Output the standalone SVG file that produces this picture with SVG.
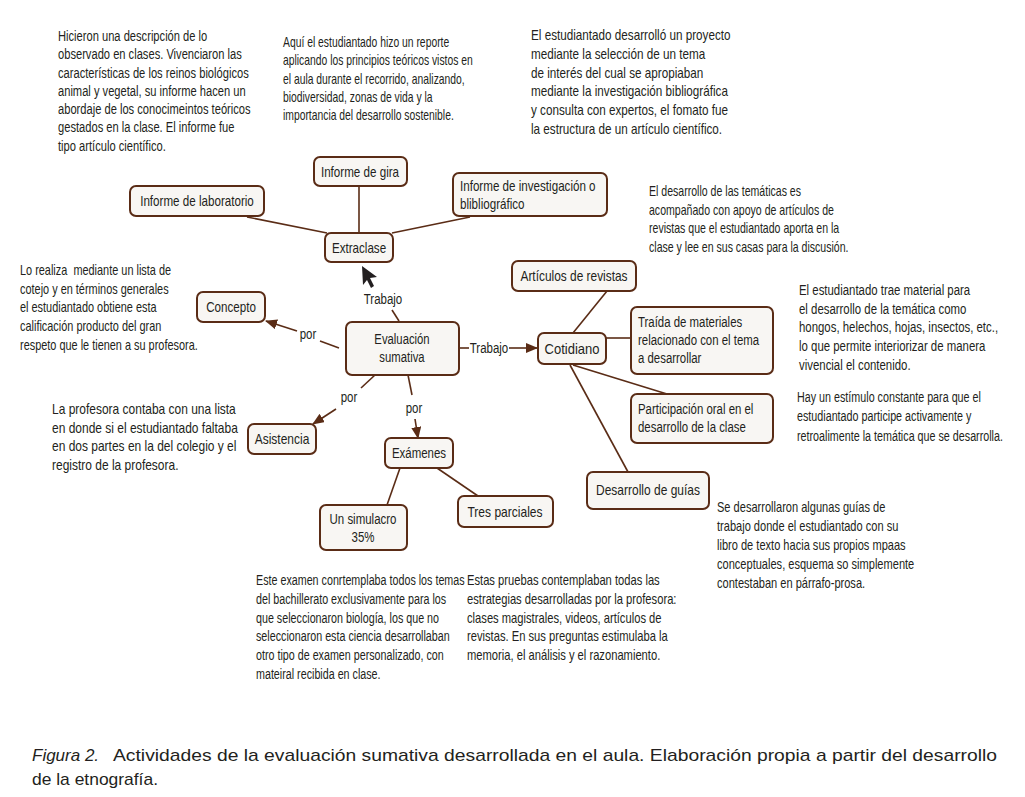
<svg xmlns="http://www.w3.org/2000/svg" width="1025" height="797" viewBox="0 0 1025 797">
<style>
.bg{fill:#ffffff}
.box{fill:#f8f6f3;stroke:#5a2c16;stroke-width:2}
.cn{stroke:#5a2c16;stroke-width:1.6;fill:none}
text{fill:#231f20;font-family:"Liberation Sans",Arial,sans-serif;font-size:14px}
.m{text-anchor:middle}
.cap{font-size:17px}
</style>
<defs>
<marker id="arr" markerWidth="12" markerHeight="10" refX="11" refY="5" orient="auto" markerUnits="userSpaceOnUse">
<path d="M0,0 L12,5 L0,10 Z" fill="#5a2c16"/>
</marker>
</defs>
<rect class="bg" x="0" y="0" width="1025" height="797"/>

<g id="connectors">
<line class="cn" x1="247" y1="217" x2="327" y2="233"/>
<line class="cn" x1="359" y1="186" x2="359" y2="233"/>
<line class="cn" x1="392" y1="233" x2="470" y2="217"/>
<line class="cn" x1="392" y1="310" x2="399" y2="321"/>
<path d="M362,266 L363,285 L367,280 L371,288 L374,286 L370,278 L377,277 Z" fill="#231f20"/>
<line class="cn" x1="339" y1="348" x2="320" y2="341"/>
<line class="cn" x1="297" y1="331" x2="266" y2="321" marker-end="url(#arr)"/>
<line class="cn" x1="459" y1="348" x2="469" y2="348"/>
<line class="cn" x1="509" y1="348" x2="537" y2="348" marker-end="url(#arr)"/>
<line class="cn" x1="375" y1="375" x2="361" y2="388"/>
<line class="cn" x1="336" y1="409" x2="313" y2="424" marker-end="url(#arr)"/>
<line class="cn" x1="408" y1="375" x2="412" y2="395"/>
<line class="cn" x1="415" y1="419" x2="418" y2="438" marker-end="url(#arr)"/>
<line class="cn" x1="400" y1="468" x2="387" y2="505"/>
<line class="cn" x1="437" y1="468" x2="478" y2="496"/>
<line class="cn" x1="607" y1="291" x2="573" y2="333"/>
<line class="cn" x1="606" y1="338" x2="631" y2="338"/>
<line class="cn" x1="573" y1="365" x2="667" y2="394"/>
<line class="cn" x1="570" y1="365" x2="628" y2="472"/>
<text class="m" transform="matrix(0.82,0,0,1,383,0)" x="0" y="304">Trabajo</text>
<text class="m" transform="matrix(0.82,0,0,1,308,0)" x="0" y="339">por</text>
<text class="m" transform="matrix(0.82,0,0,1,489,0)" x="0" y="353">Trabajo</text>
<text class="m" transform="matrix(0.82,0,0,1,349,0)" x="0" y="402">por</text>
<text class="m" transform="matrix(0.82,0,0,1,414,0)" x="0" y="413">por</text>
</g>

<g id="n-lab"><rect class="box" x="130" y="186" width="134" height="30" rx="6"/><text class="m" transform="matrix(0.83,0,0,1,197,0)" x="0" y="206">Informe de laboratorio</text></g>
<g id="n-gira"><rect class="box" x="314" y="157" width="93" height="29" rx="6"/><text class="m" transform="matrix(0.83,0,0,1,360,0)" x="0" y="177">Informe de gira</text></g>
<g id="n-inv"><rect class="box" x="453" y="173" width="154" height="43" rx="6"/><text transform="matrix(0.83,0,0,1,460,0)" x="0" y="191">Informe de investigación o<tspan x="0" y="209">blibliográfico</tspan></text></g>
<g id="n-extra"><rect class="box" x="325" y="233" width="68" height="29" rx="6"/><text class="m" transform="matrix(0.83,0,0,1,359,0)" x="0" y="253">Extraclase</text></g>
<g id="n-eval"><rect class="box" x="346" y="322" width="113" height="53" rx="6"/><text class="m" transform="matrix(0.78,0,0,1,402,0)" x="0" y="344" style="font-size:14.5px">Evaluación<tspan x="0" y="362">sumativa</tspan></text></g>
<g id="n-concepto"><rect class="box" x="197" y="292" width="68" height="30" rx="6"/><text class="m" transform="matrix(0.83,0,0,1,231,0)" x="0" y="312">Concepto</text></g>
<g id="n-cotidiano"><rect class="box" x="538" y="333" width="68" height="31" rx="6"/><text class="m" transform="matrix(0.93,0,0,1,572,0)" x="0" y="354">Cotidiano</text></g>
<g id="n-articulos"><rect class="box" x="512" y="261" width="124" height="30" rx="6"/><text class="m" transform="matrix(0.85,0,0,1,574,0)" x="0" y="281">Artículos de revistas</text></g>
<g id="n-traida"><rect class="box" x="631" y="307" width="142" height="67" rx="6"/><text transform="matrix(0.815,0,0,1,638,0)" x="0" y="327">Traída de materiales<tspan x="0" y="345">relacionado con el tema</tspan><tspan x="0" y="363">a desarrollar</tspan></text></g>
<g id="n-partic"><rect class="box" x="631" y="394" width="142" height="49" rx="6"/><text transform="matrix(0.815,0,0,1,638,0)" x="0" y="414">Participación oral en el<tspan x="0" y="432">desarrollo de la clase</tspan></text></g>
<g id="n-guias"><rect class="box" x="587" y="472" width="122" height="37" rx="6"/><text class="m" transform="matrix(0.857,0,0,1,648,0)" x="0" y="495">Desarrollo de guías</text></g>
<g id="n-asist"><rect class="box" x="248" y="424" width="68" height="30" rx="6"/><text class="m" transform="matrix(0.857,0,0,1,282,0)" x="0" y="444">Asistencia</text></g>
<g id="n-exam"><rect class="box" x="385" y="438" width="68" height="30" rx="6"/><text class="m" transform="matrix(0.82,0,0,1,419,0)" x="0" y="458">Exámenes</text></g>
<g id="n-simul"><rect class="box" x="320" y="505" width="87" height="45" rx="6"/><text class="m" transform="matrix(0.82,0,0,1,363,0)" x="0" y="524">Un simulacro<tspan x="0" y="542">35%</tspan></text></g>
<g id="n-tres"><rect class="box" x="458" y="496" width="95" height="31" rx="6"/><text class="m" transform="matrix(0.86,0,0,1,505,0)" x="0" y="517">Tres parciales</text></g>

<g id="notes">
<text transform="matrix(0.797,0,0,1,58,0)" x="0" y="41">Hicieron una descripción de lo<tspan x="0" dy="18.3">observado en clases. Vivenciaron las</tspan><tspan x="0" dy="18.3">características de los reinos biológicos</tspan><tspan x="0" dy="18.3">animal y vegetal, su informe hacen un</tspan><tspan x="0" dy="18.3">abordaje de los conocimeintos teóricos</tspan><tspan x="0" dy="18.3">gestados en la clase. El informe fue</tspan><tspan x="0" dy="18.3">tipo artículo científico.</tspan></text>
<text transform="matrix(0.74,0,0,1,283,0)" x="0" y="47">Aquí el estudiantado hizo un reporte<tspan x="0" dy="18.3">aplicando los principios teóricos vistos en</tspan><tspan x="0" dy="18.3">el aula durante el recorrido, analizando,</tspan><tspan x="0" dy="18.3">biodiversidad, zonas de vida y la</tspan><tspan x="0" dy="18.3">importancia del desarrollo sostenible.</tspan></text>
<text transform="matrix(0.836,0,0,1,531,0)" x="0" y="40">El estudiantado desarrolló un proyecto<tspan x="0" dy="18.8">mediante la selección de un tema</tspan><tspan x="0" dy="18.8">de interés del cual se apropiaban</tspan><tspan x="0" dy="18.8">mediante la investigación bibliográfica</tspan><tspan x="0" dy="18.8">y consulta con expertos, el fomato fue</tspan><tspan x="0" dy="18.8">la estructura de un artículo científico.</tspan></text>
<text transform="matrix(0.755,0,0,1,649,0)" x="0" y="196">El desarrollo de las temáticas es<tspan x="0" dy="18.6">acompañado con apoyo de artículos de</tspan><tspan x="0" dy="18.6">revistas que el estudiantado aporta en la</tspan><tspan x="0" dy="18.6">clase y lee en sus casas para la discusión.</tspan></text>
<text transform="matrix(0.815,0,0,1,799,0)" x="0" y="295">El estudiantado trae material para<tspan x="0" dy="18.7">el desarrollo de la temática como</tspan><tspan x="0" dy="18.7">hongos, helechos, hojas, insectos, etc.,</tspan><tspan x="0" dy="18.7">lo que permite interiorizar de manera</tspan><tspan x="0" dy="18.7">vivencial el contenido.</tspan></text>
<text transform="matrix(0.768,0,0,1,797,0)" x="0" y="402">Hay un estímulo constante para que el<tspan x="0" dy="19.3">estudiantado participe activamente y</tspan><tspan x="0" dy="19.3">retroalimente la temática que se desarrolla.</tspan></text>
<text transform="matrix(0.79,0,0,1,717,0)" x="0" y="512">Se desarrollaron algunas guías de<tspan x="0" dy="19">trabajo donde el estudiantado con su</tspan><tspan x="0" dy="19">libro de texto hacia sus propios mpaas</tspan><tspan x="0" dy="19">conceptuales, esquema so simplemente</tspan><tspan x="0" dy="19">contestaban en párrafo-prosa.</tspan></text>
<text transform="matrix(0.78,0,0,1,20,0)" x="0" y="275" xml:space="preserve">Lo realiza  mediante un lista de<tspan x="0" dy="18.7">cotejo y en términos generales</tspan><tspan x="0" dy="18.7">el estudiantado obtiene esta</tspan><tspan x="0" dy="18.7">calificación producto del gran</tspan><tspan x="0" dy="18.7">respeto que le tienen a su profesora.</tspan></text>
<text transform="matrix(0.857,0,0,1,52,0)" x="0" y="414">La profesora contaba con una lista<tspan x="0" dy="18.7">en donde si el estudiantado faltaba</tspan><tspan x="0" dy="18.7">en dos partes en la del colegio y el</tspan><tspan x="0" dy="18.7">registro de la profesora.</tspan></text>
<text transform="matrix(0.766,0,0,1,256,0)" x="0" y="585">Este examen conrtemplaba todos los temas<tspan x="0" dy="18.8">del bachillerato exclusivamente para los</tspan><tspan x="0" dy="18.8">que seleccionaron biología, los que no</tspan><tspan x="0" dy="18.8">seleccionaron esta ciencia desarrollaban</tspan><tspan x="0" dy="18.8">otro tipo de examen personalizado, con</tspan><tspan x="0" dy="18.8">mateiral recibida en clase.</tspan></text>
<text transform="matrix(0.8,0,0,1,467,0)" x="0" y="585">Estas pruebas contemplaban todas las<tspan x="0" dy="18.8">estrategias desarrolladas por la profesora:</tspan><tspan x="0" dy="18.8">clases magistrales, videos, artículos de</tspan><tspan x="0" dy="18.8">revistas. En sus preguntas estimulaba la</tspan><tspan x="0" dy="18.8">memoria, el análisis y el razonamiento.</tspan></text>
</g>

<g id="caption">
<text class="cap" x="32" y="761" font-style="italic">Figura 2.</text>
<text class="cap" x="113" y="761" textLength="884" lengthAdjust="spacingAndGlyphs">Actividades de la evaluación sumativa desarrollada en el aula. Elaboración propia a partir del desarrollo</text>
<text class="cap" x="32" y="785" textLength="126" lengthAdjust="spacingAndGlyphs">de la etnografía.</text>
</g>
</svg>
